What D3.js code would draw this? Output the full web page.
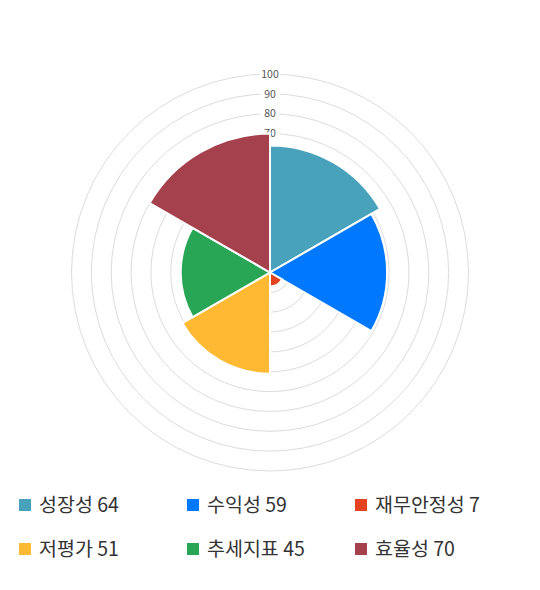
<!DOCTYPE html>
<html>
<head>
<meta charset="utf-8">
<script src="https://cdn.jsdelivr.net/npm/d3@7"></script>
<style>
  body { margin: 0; background: #fff; }
  text { font-family: "Noto Sans CJK KR", "Noto Sans", sans-serif; }
</style>
</head>
<body>
<div id="chart"></div>
<script>
// chart data
var labels = ["성장성", "수익성", "재무안정성", "저평가", "추세지표", "효율성"];
var values = [64, 59, 7, 51, 45, 70];
var colors = ["#48a2bb", "#0078ff", "#e3431f", "#ffb933", "#29a655", "#a5404d"];
var ticks = [10, 20, 30, 40, 50, 60, 70, 80, 90, 100];

var width = 540, height = 590;
var cx = 270, cy = 272.5, R = 198.5;

var svg = d3.select("#chart").append("svg")
    .attr("width", width)
    .attr("height", height);

var r = d3.scaleLinear().domain([0, 100]).range([0, R]);

var g = svg.append("g").attr("transform", "translate(" + cx + "," + cy + ")");

// grid rings
g.selectAll(".ring")
    .data(ticks)
    .enter()
    .append("circle")
    .attr("class", "ring")
    .attr("r", function(d) { return r(d); })
    .style("fill", "none")
    .style("stroke", "#dcdcdc")
    .style("stroke-width", 1);

// tick labels with white backdrop
var tl = g.selectAll(".tick")
    .data(ticks)
    .enter()
    .append("g")
    .attr("class", "tick")
    .attr("transform", function(d) { return "translate(0," + (-r(d)) + ")"; });

tl.append("rect")
    .attr("x", -10).attr("y", -6)
    .attr("width", 20).attr("height", 12)
    .style("fill", "#fff");

tl.append("text")
    .attr("dy", "0.35em")
    .style("text-anchor", "middle")
    .style("font-size", "10.5px")
    .style("fill", "#555")
    .text(function(d) { return d; });

// sectors
var step = 2 * Math.PI / labels.length;
var arc = d3.arc()
    .innerRadius(0)
    .outerRadius(function(d) { return r(d.v); })
    .startAngle(function(d) { return d.i * step; })
    .endAngle(function(d) { return (d.i + 1) * step; });

g.selectAll(".slice")
    .data(values.map(function(v, i) { return {v: v, i: i}; }))
    .enter()
    .append("path")
    .attr("class", "slice")
    .attr("d", arc)
    .style("fill", function(d) { return colors[d.i]; })
    .style("stroke", "#fff")
    .style("stroke-width", 2);

// legend
var leg = svg.selectAll(".leg")
    .data(labels)
    .enter()
    .append("g")
    .attr("class", "leg")
    .attr("transform", function(d, i) {
        var col = i % 3, row = Math.floor(i / 3);
        return "translate(" + (19 + col * 168) + "," + (499 + row * 44) + ")";
    });

leg.append("rect")
    .attr("width", 12).attr("height", 12)
    .style("fill", function(d, i) { return colors[i]; });

leg.append("text")
    .attr("x", 20)
    .attr("y", 6)
    .attr("dy", "0.36em")
    .style("font-size", "19.5px")
    .style("fill", "#333")
    .text(function(d, i) { return d + " " + values[i]; });
</script>
</body>
</html>
